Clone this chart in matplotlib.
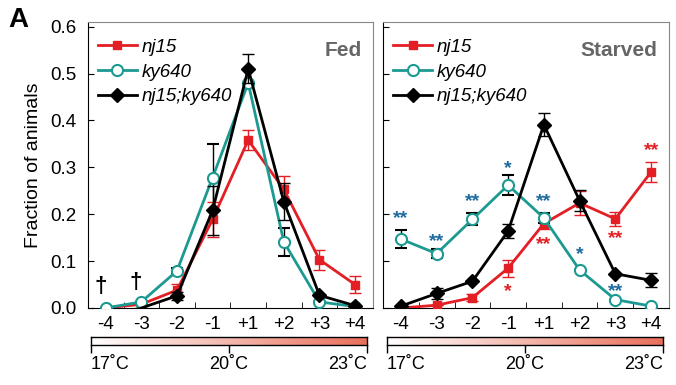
import numpy as np
import matplotlib.pyplot as plt
from matplotlib.colors import LinearSegmentedColormap
from matplotlib.lines import Line2D

plt.rcParams.update({
    "font.family": ["Liberation Sans", "DejaVu Sans"],
    "font.size": 11,
})

# temperature offsets from the cultivation temperature
steps = ["-4", "-3", "-2", "-1", "+1", "+2", "+3", "+4"]

# fed animals
fed_nj15 = [0.0, 0.008, 0.038, 0.189, 0.358, 0.253, 0.103, 0.050]
fed_nj15_err = [0.0, 0.0, 0.013, 0.037, 0.021, 0.028, 0.021, 0.019]
fed_ky640 = [0.0, 0.013, 0.079, 0.278, 0.480, 0.141, 0.013, 0.003]
fed_ky640_err = [0.0, 0.0, 0.007, 0.072, 0.0, 0.030, 0.0, 0.0]
fed_double = [np.nan, 0.0, 0.026, 0.208, 0.510, 0.227, 0.027, 0.005]
fed_double_err = [0.0, 0.0, 0.009, 0.053, 0.031, 0.040, 0.0, 0.0]

# starved animals
st_nj15 = [0.0, 0.006, 0.022, 0.085, 0.180, 0.224, 0.190, 0.290]
st_nj15_err = [0.0, 0.0, 0.007, 0.018, 0.012, 0.025, 0.015, 0.022]
st_ky640 = [0.147, 0.116, 0.189, 0.262, 0.192, 0.081, 0.018, 0.004]
st_ky640_err = [0.020, 0.009, 0.013, 0.021, 0.011, 0.0, 0.0, 0.0]
st_double = [0.004, 0.031, 0.057, 0.164, 0.391, 0.229, 0.073, 0.059]
st_double_err = [0.0, 0.011, 0.0, 0.015, 0.024, 0.022, 0.0, 0.015]

# significance marks on the starved panel: (step index, height, text)
stars_ky640 = [(0, 0.190, "**"), (1, 0.142, "**"), (2, 0.228, "**"), (3, 0.298, "*"),
               (4, 0.228, "**"), (5, 0.114, "*"), (6, 0.036, "**")]
stars_nj15 = [(3, 0.036, "*"), (4, 0.135, "**"), (6, 0.148, "**"), (7, 0.336, "**")]

temp_labels = ["17˚C", "20˚C", "23˚C"]

RED = "#e31e24"
TEAL = "#1c9a91"
BLUE = "#1f6b9e"
x = np.arange(len(steps))

fig = plt.figure(figsize=(6.76, 3.85), dpi=100)
ax_fed = fig.add_axes([0.130, 0.200, 0.4216, 0.743])
ax_st = fig.add_axes([0.5666, 0.200, 0.423, 0.743])


def draw_panel(ax, nj, nj_e, ky, ky_e, dbl, dbl_e, title, skip_first=None):
    ax.errorbar(x, nj, yerr=nj_e, color=RED, ecolor=RED, lw=2, marker="s", ms=5.5,
                mfc=RED, mec=RED, capsize=4, elinewidth=1, capthick=1,
                label="nj15", zorder=3)
    ax.errorbar(x, ky, yerr=ky_e, color=TEAL, ecolor="black", lw=2, marker="o", ms=8,
                mfc="white", mec=TEAL, mew=1.5, capsize=4, elinewidth=1, capthick=1,
                label="ky640", zorder=4)
    marks = list(range(len(x))) if skip_first is None else skip_first
    ax.errorbar(x, dbl, yerr=dbl_e, color="black", ecolor="black", lw=2, marker="D",
                ms=7, mfc="black", mec="black", capsize=4, elinewidth=1, capthick=1,
                markevery=marks, label="nj15;ky640", zorder=5)
    ax.set_xlim(-0.5, len(x) - 0.5)
    ax.set_ylim(0, 0.61)
    ax.set_xticks(x)
    ax.set_xticklabels(steps, fontsize=13.5)
    ax.set_xticks(x[:-1] + 0.5, minor=True)
    ax.tick_params(axis="x", which="major", length=0, pad=6)
    ax.tick_params(axis="x", which="minor", direction="in", length=4)
    ax.tick_params(axis="y", direction="in", length=4, labelsize=13.5, pad=8)
    for s in ax.spines.values():
        s.set_linewidth(0.8)
    ax.spines["left"].set_color("black")
    ax.spines["bottom"].set_color("black")
    for side in ("top", "right"):
        ax.spines[side].set_color("#888888")
    ax.text(0.96, 0.90, title, transform=ax.transAxes, ha="right", va="center",
            fontsize=15, fontweight="bold", color="#666666")
    handles = [
        Line2D([], [], color=RED, lw=2, marker="s", ms=5.5, mfc=RED, mec=RED),
        Line2D([], [], color=TEAL, lw=2, marker="o", ms=8, mfc="white", mec=TEAL, mew=1.5),
        Line2D([], [], color="black", lw=2, marker="D", ms=7),
    ]
    ax.legend(handles, ["nj15", "ky640", "nj15;ky640"], loc="upper left",
              frameon=False, prop={"style": "italic", "size": 13.5},
              handlelength=2.1, handletextpad=0.25, labelspacing=0.4,
              borderaxespad=0.2, bbox_to_anchor=(-0.005, 0.98))
    return ax


draw_panel(ax_fed, fed_nj15, fed_nj15_err, fed_ky640, fed_ky640_err,
           fed_double, fed_double_err, "Fed", skip_first=[2, 3, 4, 5, 6, 7])
draw_panel(ax_st, st_nj15, st_nj15_err, st_ky640, st_ky640_err,
           st_double, st_double_err, "Starved")

ax_fed.set_yticks(np.arange(0, 0.61, 0.1))
ax_fed.set_yticklabels([f"{v:.1f}" for v in np.arange(0, 0.61, 0.1)])
ax_fed.set_ylabel("Fraction of animals", fontsize=14, labelpad=6)
ax_st.set_yticks(np.arange(0, 0.61, 0.1))
ax_st.set_yticklabels([])

# daggers over the first two fed steps
for i, h in [(0, 0.045), (1, 0.055)]:
    ax_fed.text(i - 0.15, h, "†", ha="center", va="center", fontsize=16,
                fontweight="bold", color="black")

for i, h, s in stars_ky640:
    ax_st.text(i, h, s, ha="center", va="center", fontsize=14, fontweight="bold",
               color=BLUE)
for i, h, s in stars_nj15:
    ax_st.text(i, h, s, ha="center", va="center", fontsize=14, fontweight="bold",
               color=RED)

fig.text(0.012, 0.947, "A", fontsize=20, fontweight="bold", ha="left", va="center")

# temperature gradient bars
cmap = LinearSegmentedColormap.from_list("temp", ["#ffffff", "#e9705a"])
grad = np.linspace(0, 1, 256)[None, :]
for x0 in (0.1346, 0.5725):
    cax = fig.add_axes([x0, 0.104, 0.408, 0.0208])
    cax.imshow(grad, aspect="auto", cmap=cmap, extent=[0, 1, 0, 1])
    cax.set_xlim(0, 1)
    cax.set_yticks([])
    cax.set_xticks([0, 0.5, 1])
    cax.set_xticklabels(temp_labels, fontsize=13)
    tl = cax.get_xticklabels()
    tl[0].set_ha("left")
    tl[2].set_ha("right")
    cax.tick_params(axis="x", length=6, width=1, pad=2)
    for s in cax.spines.values():
        s.set_linewidth(1)

fig.savefig("out.png", dpi=100)
